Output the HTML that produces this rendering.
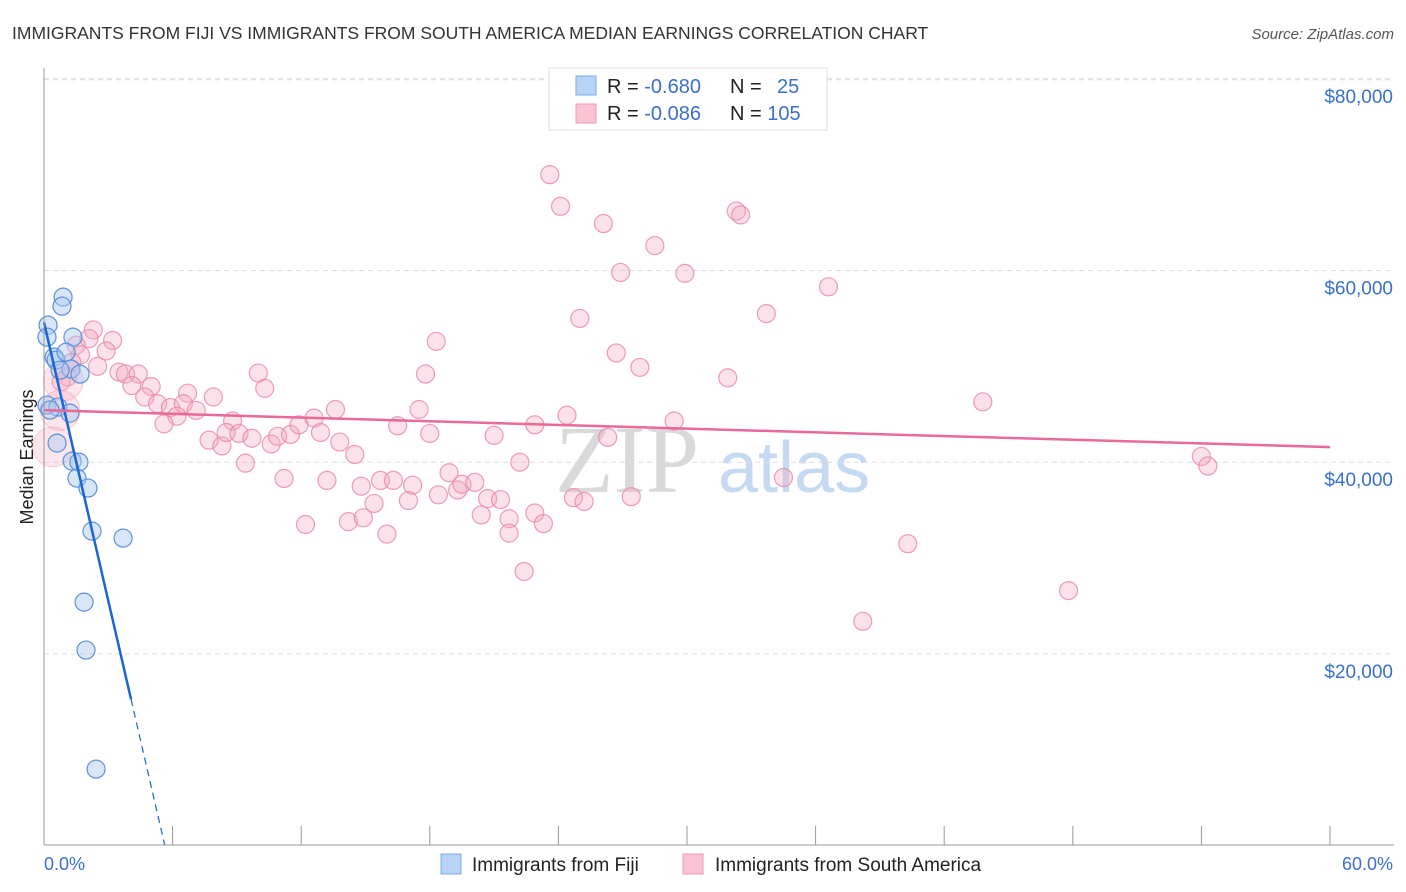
<!DOCTYPE html>
<html><head><meta charset="utf-8"><style>
body{margin:0;background:#fff;font-family:"Liberation Sans",sans-serif;}
#wrap{position:relative;width:1406px;height:892px;overflow:hidden;}
</style></head><body>
<div id="wrap">
<svg id="svg" width="1406" height="892" xmlns="http://www.w3.org/2000/svg">
<text x="12" y="39" font-size="17.5" fill="#333">IMMIGRANTS FROM FIJI VS IMMIGRANTS FROM SOUTH AMERICA MEDIAN EARNINGS CORRELATION CHART</text>
<text x="1394" y="39" font-size="15" fill="#555" font-style="italic" text-anchor="end">Source: ZipAtlas.com</text>
<text x="33" y="457" font-size="18" fill="#222" text-anchor="middle" transform="rotate(-90 33 457)">Median Earnings</text>
<text x="555" y="492" font-size="96" fill="#d9d9d9" font-family="Liberation Serif,serif">ZIP</text>
<text x="718" y="492" font-size="72" fill="#c5d9f2">atlas</text>
<g id="grid"></g><g id="pts"></g><g id="trend"></g>
<line x1="44" y1="68" x2="44" y2="845" stroke="#999"/>
<line x1="44" y1="845" x2="1394" y2="845" stroke="#999"/>
<text x="44" y="870" font-size="18" fill="#3a6fd0">0.0%</text>
<text x="1393" y="870" font-size="18" fill="#3a6fd0" text-anchor="end">60.0%</text>
<g>
<rect x="549" y="68" width="278" height="62" fill="#fff" stroke="#ddd"/>
<rect x="576" y="76" width="20" height="19" fill="#b9d3f5" stroke="#7ea8e6"/>
<rect x="576" y="104" width="20" height="19" fill="#f9c3d4" stroke="#ef9ab6"/>
<text x="607" y="93" font-size="20" fill="#222">R = <tspan fill="#3a6fd0">-0.680</tspan></text>
<text x="730" y="93" font-size="20" fill="#222">N = <tspan fill="#3a6fd0" x="777">25</tspan></text>
<text x="607" y="120" font-size="20" fill="#222">R = <tspan fill="#3a6fd0">-0.086</tspan></text>
<text x="730" y="120" font-size="20" fill="#222">N = <tspan fill="#3a6fd0">105</tspan></text>
</g>
<g>
<rect x="441" y="854" width="20" height="20" fill="#b9d3f5" stroke="#7ea8e6"/>
<text x="472" y="871" font-size="19" fill="#222">Immigrants from Fiji</text>
<rect x="683" y="854" width="20" height="20" fill="#f9c3d4" stroke="#ef9ab6"/>
<text x="715" y="871" font-size="19" fill="#222">Immigrants from South America</text>
</g>
</svg>
</div>
<script>
const yTicks=[20000,40000,60000,80000];
const yTickLabels=["$20,000","$40,000","$60,000","$80,000"];
const xTicks=[0,6,12,18,24,30,36,42,48,54,60];
const fijiX=[0.89,0.84,0.19,0.14,1.35,0.47,0.56,1.03,1.26,1.68,0.14,0.65,1.21,0.61,1.31,1.63,1.54,2.05,2.24,3.69,1.87,1.96,2.43,0.28,0.75];
const fijiY=[57220,56280,54300,53050,53050,50960,50650,51480,49710,49190,45960,45750,45120,41990,40110,40010,38340,37300,32810,32080,25400,20400,7980,45440,49600];
const saX=[23.6,24.1,26.1,32.3,32.5,28.5,26.9,29.9,36.6,33.7,25.0,18.3,26.7,27.8,31.9,43.8,2.3,2.1,3.2,1.5,2.9,1.7,1.3,2.5,1.1,0.8,3.5,3.8,4.4,4.1,5.0,4.7,6.7,7.9,5.3,5.9,6.5,7.1,6.2,5.6,10.0,10.3,8.8,7.7,8.3,8.5,9.1,9.7,10.6,9.4,10.9,11.5,11.9,12.6,13.6,12.9,13.8,14.5,11.2,13.2,12.2,14.2,14.9,14.8,15.7,16.3,15.4,16.0,17.2,17.0,16.5,17.5,17.8,18.0,18.9,18.4,19.3,19.5,20.1,20.4,20.7,21.3,21.0,21.7,21.7,22.2,22.4,22.9,22.9,23.3,24.4,24.7,25.2,26.3,27.4,29.4,34.5,38.2,40.3,47.8,54.0,54.3,0.4,0.75,0.9];
const saY=[70.0,66.7,64.9,66.2,65.8,62.6,59.8,59.7,58.3,55.5,55.0,52.6,51.4,49.9,48.8,46.3,53.8,52.9,52.7,52.2,51.6,51.2,50.4,50.0,48.9,48.4,49.4,49.2,49.2,48.0,47.9,46.8,47.2,46.8,46.1,45.7,46.1,45.4,44.8,44.0,49.3,47.7,44.3,42.3,41.7,43.1,43.0,42.5,41.9,39.9,42.7,42.9,43.9,44.6,45.5,43.1,42.1,40.8,38.3,38.1,33.5,33.8,34.2,37.5,38.1,38.1,35.7,32.5,37.6,36.0,43.8,45.5,49.2,43.0,38.9,36.6,37.1,37.7,37.9,34.5,36.2,36.1,42.8,34.1,32.6,40.0,28.6,34.7,43.9,33.6,44.9,36.3,35.9,42.6,36.4,44.3,38.4,23.4,31.5,26.6,40.6,39.6,41.6,45.4,48.5];
const saBig=[102,103,104];
const fijiTrend=[54580,-9680]; // intercept, slope per %
const saTrend=[45430,-64.3];
const NS="http://www.w3.org/2000/svg";
const X=v=>44+v*1286/60;
const Y=v=>845.6-v*191.7/20000;
function mk(tag,attrs,parent){const e=document.createElementNS(NS,tag);for(const k in attrs)e.setAttribute(k,attrs[k]);parent.appendChild(e);return e;}
const grid=document.getElementById('grid'),pts=document.getElementById('pts'),tr=document.getElementById('trend'),svg=document.getElementById('svg');
mk('line',{x1:44,x2:1394,y1:Y(80000)+1,y2:Y(80000)+1,stroke:'#ddd','stroke-dasharray':'5,4'},grid);
yTicks.forEach((t,i)=>{
 const l=mk('line',{x1:44,x2:1394,y1:Y(t),y2:Y(t),stroke:'#ddd','stroke-dasharray':'5,4'},grid);
 
 
 const tx=mk('text',{x:1393,y:Y(t)+24,'font-size':19,fill:'#3a6fd0','text-anchor':'end'},svg);
 tx.textContent=yTickLabels[i];
 
 
});
xTicks.forEach(t=>{
 const l=mk('line',{x1:X(t),x2:X(t),y1:826,y2:845,stroke:'#999'},grid);
 
 
});
saX.forEach((x,i)=>{
 const big=saBig.includes(i);
 const c=mk('circle',{cx:X(x),cy:Y(saY[i]*1000),r:big?20:9,fill:'#f4a9c1','fill-opacity':big?0.3:0.35,stroke:'#e985a8','stroke-opacity':big?0.3:0.8,'stroke-width':1.2},pts);
 
 
});
fijiX.forEach((x,i)=>{
 const c=mk('circle',{cx:X(x),cy:Y(fijiY[i]),r:9,fill:'#a9c8f0','fill-opacity':0.45,stroke:'#5d90da','stroke-width':1.2},pts);
 
 
});
const fx1=4.06,fx2=-fijiTrend[0]/fijiTrend[1];
const f1=mk('line',{x1:X(0),y1:Y(fijiTrend[0]),x2:X(fx1),y2:Y(fijiTrend[0]+fijiTrend[1]*fx1),stroke:'#1a66d6','stroke-width':2.5},tr);


const f2=mk('line',{x1:X(fx1),y1:Y(fijiTrend[0]+fijiTrend[1]*fx1),x2:X(fx2),y2:Y(0),stroke:'#1a66d6','stroke-width':1.2,'stroke-dasharray':'7,5'},tr);


const s1=mk('line',{x1:X(0),y1:Y(saTrend[0]),x2:X(60),y2:Y(saTrend[0]+saTrend[1]*60),stroke:'#e8699a','stroke-width':2.5},tr);


</script>
</body></html>
